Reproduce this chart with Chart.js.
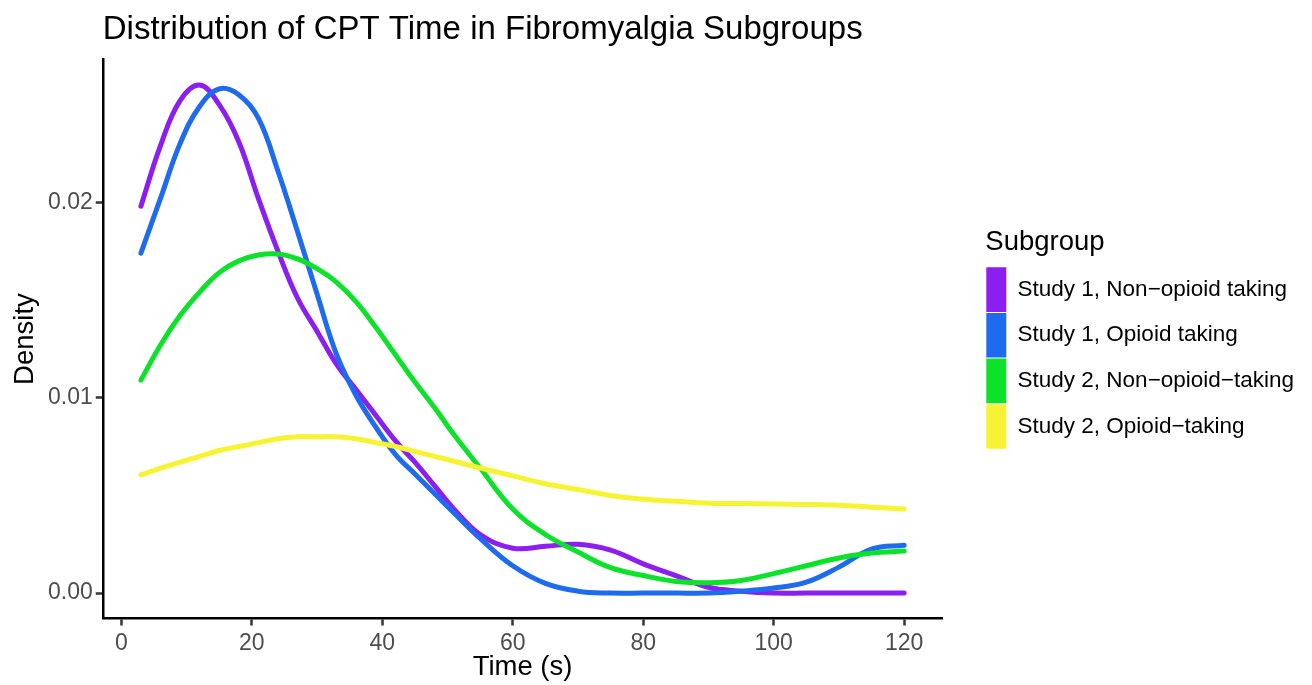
<!DOCTYPE html>
<html>
<head>
<meta charset="utf-8">
<title>Distribution of CPT Time in Fibromyalgia Subgroups</title>
<script src="https://cdn.jsdelivr.net/npm/chart.js@4.4.1/dist/chart.umd.min.js"></script>
<style>
  html, body { margin: 0; padding: 0; background: #fff; }
  #wrap { width: 1312px; height: 685px; }
</style>
</head>
<body>
<div id="wrap"><canvas id="density-chart" width="1312" height="685"></canvas></div>
<script>
// values
const timePoints = [3, 6, 9, 12, 15, 18, 21, 24, 27, 30, 33, 36, 39, 42, 45, 48, 51, 55, 60, 65, 70, 75, 80, 85, 90, 95, 100, 105, 110, 115, 120];

const study1NonOpioid = [0.0198, 0.0229, 0.0252, 0.0260, 0.0250, 0.0231, 0.0202, 0.0175, 0.0151, 0.0134, 0.0117, 0.0104, 0.0091, 0.0078, 0.0067, 0.0055, 0.0043, 0.0030, 0.0023, 0.0024, 0.0025, 0.0022, 0.0015, 0.0009, 0.0003, 0.0001, 0.0000, 0.0000, 0.0000, 0.0000, 0.0000];
const study1Opioid = [0.0174, 0.0202, 0.0230, 0.0249, 0.0258, 0.0255, 0.0243, 0.0216, 0.0185, 0.0153, 0.0122, 0.0101, 0.0085, 0.0071, 0.0061, 0.0051, 0.0041, 0.0028, 0.0014, 0.0005, 0.0001, 0.0000, 0.0000, 0.0000, 0.0000, 0.0001, 0.00026, 0.00056, 0.00133, 0.00225, 0.00245];
const study2NonOpioid = [0.0109, 0.0127, 0.0142, 0.0154, 0.0164, 0.0170, 0.0173, 0.01735, 0.0171, 0.0166, 0.0159, 0.0149, 0.0136, 0.0122, 0.0108, 0.0095, 0.0081, 0.0064, 0.0043, 0.0030, 0.0021, 0.0013, 0.0009, 0.0006, 0.00053, 0.00065, 0.0010, 0.0014, 0.0018, 0.00205, 0.00215];
const study2Opioid = [0.00605, 0.0064, 0.0067, 0.0070, 0.0073, 0.0075, 0.0077, 0.0079, 0.0080, 0.0080, 0.0080, 0.0079, 0.0077, 0.0075, 0.00725, 0.0070, 0.00675, 0.0064, 0.0060, 0.0056, 0.0053, 0.0050, 0.0048, 0.0047, 0.0046, 0.00458, 0.00456, 0.00454, 0.0045, 0.0044, 0.0043];

const groupLabels = ["Study 1, Non\u2212opioid taking", "Study 1, Opioid taking", "Study 2, Non\u2212opioid\u2212taking", "Study 2, Opioid\u2212taking"];
const groupColors = ["#8C1EF1", "#1F6BEF", "#0DE22B", "#F6F432"];

const xTicks = [0, 20, 40, 60, 80, 100, 120];
const yTicks = [0, 0.01, 0.02];

Chart.defaults.font.family = "'Liberation Sans', Arial, sans-serif";

const $canvas = document.querySelector("#density-chart");

const seriesList = [study1NonOpioid, study1Opioid, study2NonOpioid, study2Opioid];

const datasets = seriesList.map((values, i) => ({
    label: groupLabels[i],
    data: values.map((v, j) => ({ x: timePoints[j], y: v })),
    borderColor: groupColors[i],
    backgroundColor: groupColors[i],
    borderWidth: 5,
    borderCapStyle: "round",
    borderJoinStyle: "round",
    pointRadius: 0,
    tension: 0.4,
    order: seriesList.length - i, // later groups on top, like ggplot
}));

new Chart($canvas, {
    type: "line",
    data: { datasets },
    options: {
        responsive: false,
        animation: false,
        layout: {
            padding: { left: 1, right: 8, top: 0, bottom: 11.5 },
        },
        plugins: {
            tooltip: { enabled: false },
            title: {
                display: true,
                text: "Distribution of CPT Time in Fibromyalgia Subgroups",
                align: "start",
                fullSize: false,
                color: "#000",
                font: { size: 33, weight: "normal" },
                padding: { top: 10, bottom: 10 },
            },
            legend: {
                position: "right",
                align: "center",
                fullSize: false,
                maxWidth: 400,
                title: {
                    display: true,
                    text: "Subgroup",
                    position: "start",
                    color: "#000",
                    font: { size: 27.5 },
                    padding: { top: 0, bottom: 5 },
                },
                labels: {
                    boxWidth: 20,
                    boxHeight: 44.6,
                    padding: 1,
                    color: "#000",
                    font: { size: 22.5 },
                    generateLabels: (chart) =>
                        chart.data.datasets.map((ds, i) => ({
                            text: ds.label,
                            fillStyle: ds.borderColor,
                            strokeStyle: ds.borderColor,
                            lineWidth: 0,
                            fontColor: "#000",
                            hidden: !chart.isDatasetVisible(i),
                            datasetIndex: i,
                        })),
                },
            },
        },
        scales: {
            x: {
                type: "linear",
                min: -2.85,
                max: 125.85,
                afterBuildTicks: (scale) => {
                    scale.ticks = xTicks.map((v) => ({ value: v }));
                },
                grid: {
                    drawOnChartArea: false,
                    drawTicks: true,
                    tickLength: 7,
                    tickWidth: 2.5,
                    tickColor: "#333333",
                },
                border: { display: true, color: "#000", width: 2.5 },
                ticks: {
                    color: "#4D4D4D",
                    padding: 4,
                    font: { size: 23 },
                    maxRotation: 0,
                },
                title: {
                    display: true,
                    text: "Time (s)",
                    color: "#000",
                    font: { size: 27.5, lineHeight: 0.45 },
                    padding: { top: 0, bottom: 0 },
                },
            },
            y: {
                type: "linear",
                min: -0.0013,
                max: 0.0273,
                afterBuildTicks: (scale) => {
                    scale.ticks = yTicks.map((v) => ({ value: v }));
                },
                grid: {
                    drawOnChartArea: false,
                    drawTicks: true,
                    tickLength: 7,
                    tickWidth: 2.5,
                    tickColor: "#333333",
                },
                border: { display: true, color: "#000", width: 2.5 },
                ticks: {
                    color: "#4D4D4D",
                    padding: 3,
                    font: { size: 23 },
                    callback: (v) => v.toFixed(2),
                },
                title: {
                    display: true,
                    text: "Density",
                    color: "#000",
                    font: { size: 27.5 },
                    padding: { top: 7.5, bottom: 3.5 },
                },
            },
            // empty spacer between plot panel and legend
            gap: {
                type: "linear",
                position: "right",
                display: true,
                grid: { display: false },
                border: { display: false },
                ticks: { display: false },
                afterFit: (scale) => {
                    scale.width = 43;
                },
            },
        },
    },
});
</script>
</body>
</html>
